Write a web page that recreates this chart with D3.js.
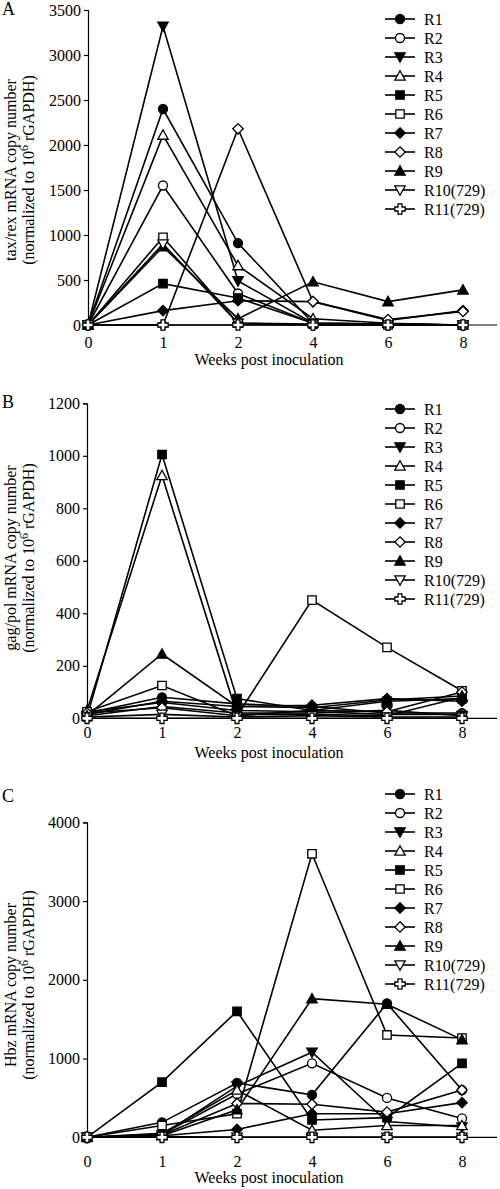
<!DOCTYPE html>
<html><head><meta charset="utf-8">
<script src="https://cdn.jsdelivr.net/npm/d3@7"></script>
<style>
html,body{margin:0;padding:0;background:#fff;}
svg text{font-family:"Liberation Serif","Times New Roman",serif;fill:#000;}
</style>
</head><body>
<svg id="chart" width="500" height="1189"></svg>
<script>
// ---------- data ----------
const weeks = ["0","1","2","4","6","8"];
const seriesNames = ["R1","R2","R3","R4","R5","R6","R7","R8","R9","R10(729)","R11(729)"];
const markerTypes = ["circle","circle","triDown","triUp","square","square","diamond","diamond","triUp","triDown","cross"];
const markerFilled = [true,false,true,false,true,false,true,false,true,false,false];

const taxRexValues = [
  [0, 2400, 910, 20, 10, 0],
  [0, 1550, 350, 20, 10, 0],
  [0, 3320, 490, 20, 10, 0],
  [0, 2110, 660, 70, 20, 0],
  [0, 460, 300, 20, 10, 0],
  [0, 975, 20, 10, 0, 0],
  [0, 160, 270, 260, 50, 160],
  [0, 0, 2180, 260, 60, 150],
  [0, 870, 70, 480, 260, 390],
  [0, 900, 20, 0, 0, 0],
  [0, 0, 0, 0, 0, 0]
];
const gagPolValues = [
  [20, 80, 55, 45, 20, 20],
  [25, 60, 30, 25, 15, 15],
  [10, 45, 20, 20, 30, 10],
  [30, 925, 15, 15, 10, 80],
  [5, 1005, 75, 30, 65, 75],
  [25, 125, 10, 450, 270, 105],
  [15, 65, 45, 50, 75, 65],
  [20, 40, 10, 30, 25, 100],
  [10, 245, 45, 40, 70, 85],
  [5, 15, 5, 10, 5, 5],
  [0, 0, 0, 0, 0, 0]
];
const hbzValues = [
  [0, 190, 690, 540, 1700, 600],
  [0, 40, 550, 940, 500, 240],
  [0, 30, 650, 1080, 200, 130],
  [0, 50, 600, 90, 150, 150],
  [0, 700, 1600, 220, 250, 940],
  [0, 150, 300, 3600, 1300, 1260],
  [0, 20, 100, 300, 300, 440],
  [0, 30, 430, 420, 320, 600],
  [0, 20, 350, 1760, 1690, 1240],
  [0, 10, 0, 0, 0, 0],
  [0, 0, 0, 0, 0, 0]
];
const taxRexTicks = [0,500,1000,1500,2000,2500,3000,3500];
const gagPolTicks = [0,200,400,600,800,1000,1200];
const hbzTicks = [0,1000,2000,3000,4000];
const panelLetters = ["A","B","C"];
const yTitles = ["tax/rex mRNA copy  number","gag/pol mRNA copy  number","Hbz mRNA copy  number"];
const xTitle = "Weeks post inoculation";

// ---------- symbols (size = half width) ----------
const sym = {
  circle:{draw(c,s){c.moveTo(s,0);c.arc(0,0,s,0,2*Math.PI);}},
  square:{draw(c,s){c.rect(-s,-s,2*s,2*s);}},
  diamond:{draw(c,s){c.moveTo(0,-s);c.lineTo(s,0);c.lineTo(0,s);c.lineTo(-s,0);c.closePath();}},
  triUp:{draw(c,s){c.moveTo(0,-s);c.lineTo(s,s*0.8);c.lineTo(-s,s*0.8);c.closePath();}},
  triDown:{draw(c,s){c.moveTo(0,s);c.lineTo(s,-s*0.8);c.lineTo(-s,-s*0.8);c.closePath();}},
  cross:{draw(c,s){const a=s*0.38;c.moveTo(-a,-s);c.lineTo(a,-s);c.lineTo(a,-a);c.lineTo(s,-a);c.lineTo(s,a);c.lineTo(a,a);c.lineTo(a,s);c.lineTo(-a,s);c.lineTo(-a,a);c.lineTo(-s,a);c.lineTo(-s,-a);c.lineTo(-a,-a);c.closePath();}}
};
const symSize = {circle:4.5,square:4.2,diamond:5.2,triUp:5.2,triDown:5.2,cross:5.2};
function markerPath(i){ return d3.symbol().type(sym[markerTypes[i]]).size(symSize[markerTypes[i]])(); }

const svg = d3.select("#chart");

const panels = [
  {values:taxRexValues, ticks:taxRexTicks, max:3500, left:88, top:10, bottom:325, tickY:348, titleY:365, letterY:15, legendY:19, titleCenter:170},
  {values:gagPolValues, ticks:gagPolTicks, max:1200, left:87, top:403.3, bottom:718.3, tickY:738, titleY:758, letterY:408, legendY:409, titleCenter:558},
  {values:hbzValues, ticks:hbzTicks, max:4000, left:87, top:822.3, bottom:1137.3, tickY:1167, titleY:1183, letterY:802, legendY:794, titleCenter:985}
];

panels.forEach((p, pi) => {
  const g = svg.append("g");
  const x = d3.scalePoint().domain(weeks).range([p.left, p.left + 375]);
  const y = d3.scaleLinear().domain([0, p.max]).range([p.bottom, p.top]);

  // y axis
  const ya = g.append("g").attr("transform", `translate(${p.left},0)`)
    .call(d3.axisLeft(y).tickValues(p.ticks).tickSize(4).tickPadding(3).tickFormat(d3.format("d")));
  ya.selectAll("path,line").attr("stroke","#000").attr("stroke-width",1.2);
  ya.selectAll("text").style("font-size","16px").style("font-family",'"Liberation Serif",serif');

  // x axis
  const xa = g.append("g").attr("transform", `translate(0,${p.bottom})`)
    .call(d3.axisBottom(x).tickSize(0).tickPadding(0));
  xa.select(".domain").remove();
  xa.selectAll("text").attr("y", p.tickY - p.bottom).attr("dy", 0)
    .style("font-size","16px").style("font-family",'"Liberation Serif",serif');
  g.append("line").attr("x1", p.left).attr("x2", 497).attr("y1", p.bottom).attr("y2", p.bottom)
    .attr("stroke","#000").attr("stroke-width",1.2);

  g.append("text").attr("x", 269).attr("y", p.titleY).attr("text-anchor","middle")
    .style("font-size","16px").text(xTitle);

  // y title
  const yt = g.append("text").attr("transform", `translate(0,${p.titleCenter}) rotate(-90)`)
    .attr("text-anchor","middle").style("font-size","16px");
  yt.append("tspan").attr("x",0).attr("y",16).text(yTitles[pi]);
  const t2 = yt.append("tspan").attr("x",0).attr("y",34);
  t2.append("tspan").text("(normalized to 10");
  t2.append("tspan").attr("dy",-6).style("font-size","12px").text("6");
  t2.append("tspan").attr("dy",6).text(" rGAPDH)");

  // panel letter
  g.append("text").attr("x", 2).attr("y", p.letterY).style("font-size","18px").text(panelLetters[pi]);

  // lines
  const line = d3.line().x((d,i)=>x(weeks[i])).y(d=>y(d));
  p.values.forEach((vals, si) => {
    g.append("path").attr("d", line(vals)).attr("fill","none").attr("stroke","#000").attr("stroke-width",1.6);
  });
  p.values.forEach((vals, si) => {
    g.selectAll(null).data(vals).enter().append("path")
      .attr("d", markerPath(si))
      .attr("transform", (d,i)=>`translate(${x(weeks[i])},${y(d)})`)
      .attr("fill", markerFilled[si] ? "#000" : "#fff")
      .attr("stroke","#000").attr("stroke-width",1.3);
  });

  // legend
  const lg = g.append("g");
  seriesNames.forEach((nm, si) => {
    const ly = p.legendY + si * 19;
    lg.append("line").attr("x1",385).attr("x2",415).attr("y1",ly).attr("y2",ly).attr("stroke","#000").attr("stroke-width",1.6);
    lg.append("path").attr("d", markerPath(si)).attr("transform",`translate(400,${ly})`)
      .attr("fill", markerFilled[si] ? "#000" : "#fff").attr("stroke","#000").attr("stroke-width",1.3);
    lg.append("text").attr("x",424).attr("y",ly).attr("dy","0.35em").style("font-size","16px").text(nm);
  });
});
</script>
</body></html>
